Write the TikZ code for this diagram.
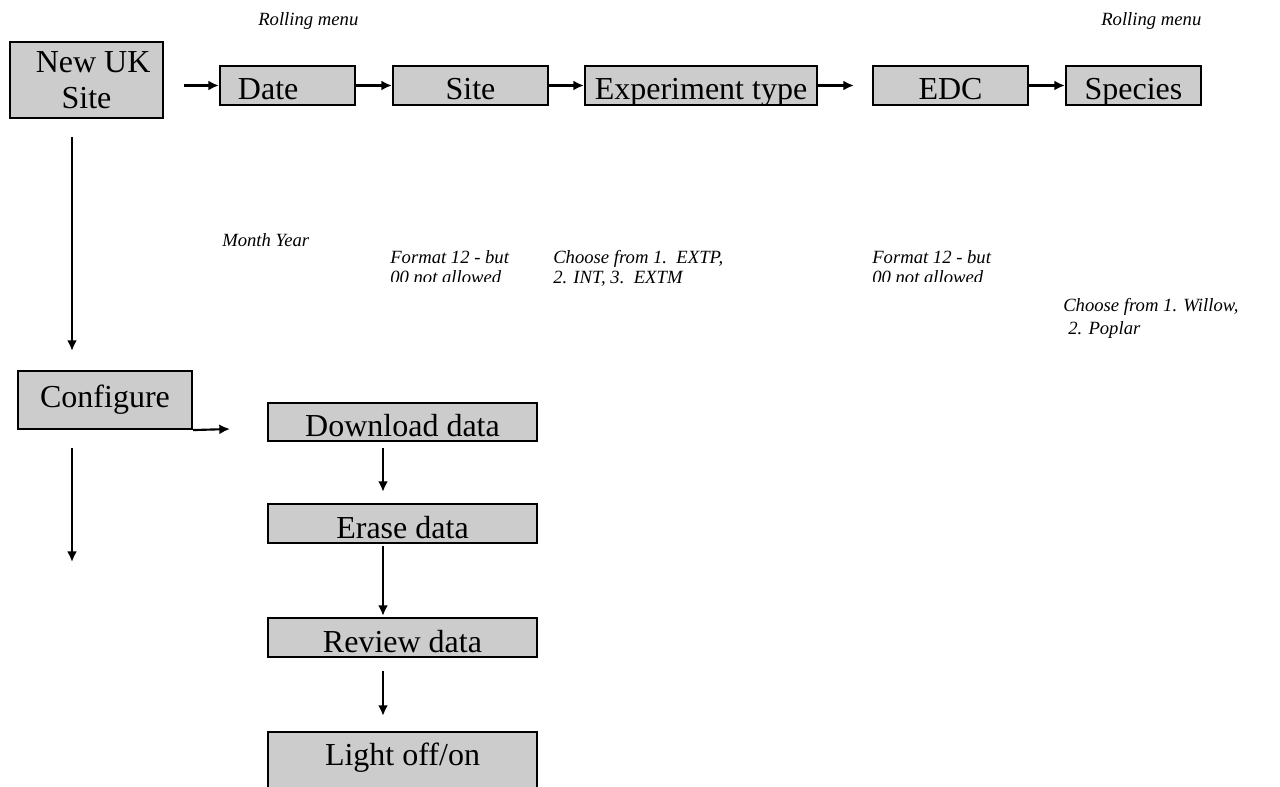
\documentclass[tikz,border=0pt]{standalone}
\usepackage{fontspec}
\setmainfont{Liberation Serif}
\usetikzlibrary{arrows.meta}
\definecolor{boxgray}{RGB}{204,204,204}
\begin{document}
\begin{tikzpicture}[x=0.75pt,y=-0.75pt,
  box/.style={draw=black, fill=boxgray, line width=1.6pt, inner sep=0pt, font=\fontsize{24}{24}\selectfont},
  low/.style={text height=21.75pt, text depth=0pt},
  arr/.style={line width=1.6pt, -{Latex[length=8pt,width=7.5pt]}},
  note/.style={font=\fontsize{14}{16}\selectfont\itshape, anchor=base west, inner sep=0pt}]
\useasboundingbox (0,0) rectangle (1280,787);

% top row
\node[box, align=center, minimum width=114.75pt, minimum height=57pt] (newuk) at (86.5,80) {\hspace*{10pt}New UK\\[3pt]Site};
\node[box, low, minimum width=101.25pt, minimum height=29.25pt] (date) at (287.5,85.5) {Date\hspace*{29pt}};
\node[box, low, minimum width=116.25pt, minimum height=29.25pt] (site) at (470.5,85.5) {Site};
\node[box, low, minimum width=174pt, minimum height=29.25pt] (exp) at (701,85.5) {Experiment type};
\node[box, low, minimum width=116.25pt, minimum height=29.25pt] (edc) at (950.5,85.5) {EDC};
\node[box, low, minimum width=101.25pt, minimum height=29.25pt] (species) at (1133.5,85.5) {Species};

% left column and configure branch
\node[box, minimum width=130.5pt, minimum height=43.5pt] (configure) at (105,400) {Configure};
\node[box, low, minimum width=201.75pt, minimum height=28.5pt] (download) at (402.5,422) {Download data};
\node[box, low, minimum width=201.75pt, minimum height=29.25pt] (erase) at (402.5,523.5) {Erase data};
\node[box, low, minimum width=201.75pt, minimum height=29.25pt] (review) at (402.5,637.5) {Review data};
\node[box, text height=12pt, text depth=13.5pt, minimum width=201.75pt, minimum height=51pt] (light) at (402.5,766) {Light off/on};

% connectors
\draw[arr, shorten <=15pt] (newuk.east |- date.west) -- (date.west);
\draw[arr] (date) -- (site);
\draw[arr] (site) -- (exp);
\draw[arr, shorten >=13.5pt] (exp) -- (edc);
\draw[arr] (edc) -- (species);

\coordinate (vx) at (72,0);
\draw[arr, shorten <=13.5pt, shorten >=14.25pt] (vx |- newuk.south) -- (vx |- configure.north);
\coordinate (cfgtip) at (230,429);
\draw[arr] (configure.south east) -- (cfgtip);
\coordinate (cfgdown) at (72,562);
\draw[arr, shorten <=13.5pt] (vx |- configure.south) -- (cfgdown);

\coordinate (dx) at (383,0);
\draw[arr, shorten <=4.5pt, shorten >=8.25pt] (dx |- download.south) -- (dx |- erase.north);
\draw[arr, shorten <=1.5pt, shorten >=0.75pt] (dx |- erase.south) -- (dx |- review.north);
\draw[arr, shorten <=9.75pt, shorten >=11.25pt] (dx |- review.south) -- (dx |- light.north);

% notes
\node[note] (rm1) at (258,26) {Rolling menu};
\node[note] (rm2) at (1101,26) {Rolling menu};
\node[note] (month) at (222,247) {Month Year};
\begin{scope}
  \clip (380,240) rectangle (545,282);
  \node[note] (fmt1a) at (390,264) {Format 12 - but};
  \node[note] (fmt1b) at (390,284) {00 not allowed};
\end{scope}
\begin{scope}
  \clip (545,240) rectangle (800,287);
  \node[note] (cho1a) at (553,264) {Choose from 1.\ \ EXTP,};
  \node[note] (cho1b) at (553,284) {2. INT, 3.\ \ EXTM};
\end{scope}
\begin{scope}
  \clip (862,240) rectangle (1030,282);
  \node[note] (fmt2a) at (872,264) {Format 12 - but};
  \node[note] (fmt2b) at (872,284) {00 not allowed};
\end{scope}
\node[note] (cho2a) at (1063,312) {Choose from 1. Willow,};
\node[note] (cho2b) at (1068,335) {2. Poplar};
\end{tikzpicture}
\end{document}
